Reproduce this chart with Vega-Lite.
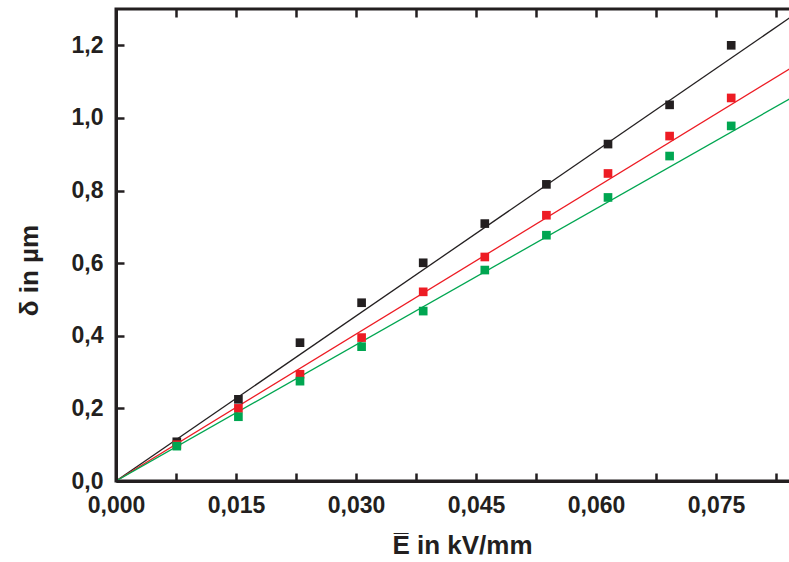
{
  "$schema": "https://vega.github.io/schema/vega-lite/v6.json",
  "width": 676,
  "height": 472,
  "autosize": {"type": "none"},
  "padding": {"left": 116, "top": 9, "right": 0, "bottom": 81},
  "background": "white",
  "config": {
    "view": {"stroke": "#231f20", "strokeWidth": 3},
    "font": "Liberation Sans"
  },
  "data": {
    "values": [
      {"series": "Bimorph", "kind": "pt", "E": 0.0076, "d": 0.108},
      {"series": "Bimorph", "kind": "pt", "E": 0.0153, "d": 0.225},
      {"series": "Bimorph", "kind": "pt", "E": 0.0230, "d": 0.381},
      {"series": "Bimorph", "kind": "pt", "E": 0.0307, "d": 0.491},
      {"series": "Bimorph", "kind": "pt", "E": 0.0384, "d": 0.601},
      {"series": "Bimorph", "kind": "pt", "E": 0.0461, "d": 0.709},
      {"series": "Bimorph", "kind": "pt", "E": 0.0538, "d": 0.817},
      {"series": "Bimorph", "kind": "pt", "E": 0.0615, "d": 0.928},
      {"series": "Bimorph", "kind": "pt", "E": 0.0692, "d": 1.036},
      {"series": "Bimorph", "kind": "pt", "E": 0.0769, "d": 1.200},
      {"series": "Trimorph", "kind": "pt", "E": 0.0076, "d": 0.100},
      {"series": "Trimorph", "kind": "pt", "E": 0.0153, "d": 0.200},
      {"series": "Trimorph", "kind": "pt", "E": 0.0230, "d": 0.294},
      {"series": "Trimorph", "kind": "pt", "E": 0.0307, "d": 0.395},
      {"series": "Trimorph", "kind": "pt", "E": 0.0384, "d": 0.521},
      {"series": "Trimorph", "kind": "pt", "E": 0.0461, "d": 0.617},
      {"series": "Trimorph", "kind": "pt", "E": 0.0538, "d": 0.732},
      {"series": "Trimorph", "kind": "pt", "E": 0.0615, "d": 0.847},
      {"series": "Trimorph", "kind": "pt", "E": 0.0692, "d": 0.950},
      {"series": "Trimorph", "kind": "pt", "E": 0.0769, "d": 1.055},
      {"series": "4-morph", "kind": "pt", "E": 0.0076, "d": 0.096},
      {"series": "4-morph", "kind": "pt", "E": 0.0153, "d": 0.177},
      {"series": "4-morph", "kind": "pt", "E": 0.0230, "d": 0.275},
      {"series": "4-morph", "kind": "pt", "E": 0.0307, "d": 0.370},
      {"series": "4-morph", "kind": "pt", "E": 0.0384, "d": 0.468},
      {"series": "4-morph", "kind": "pt", "E": 0.0461, "d": 0.581},
      {"series": "4-morph", "kind": "pt", "E": 0.0538, "d": 0.677},
      {"series": "4-morph", "kind": "pt", "E": 0.0615, "d": 0.781},
      {"series": "4-morph", "kind": "pt", "E": 0.0692, "d": 0.895},
      {"series": "4-morph", "kind": "pt", "E": 0.0769, "d": 0.978},
      {"series": "Bimorph", "kind": "fit", "E": 0, "d": 0},
      {"series": "Bimorph", "kind": "fit", "E": 0.0845, "d": 1.280},
      {"series": "Trimorph", "kind": "fit", "E": 0, "d": 0},
      {"series": "Trimorph", "kind": "fit", "E": 0.0845, "d": 1.139},
      {"series": "4-morph", "kind": "fit", "E": 0, "d": 0},
      {"series": "4-morph", "kind": "fit", "E": 0.0845, "d": 1.056}
    ]
  },
  "layer": [
    {
      "transform": [{"filter": "datum.kind == 'fit'"}],
      "mark": {"type": "line", "clip": true, "strokeWidth": 1.3},
      "encoding": {
        "x": {
          "field": "E", "type": "quantitative",
          "scale": {"domain": [0, 0.0845], "nice": false},
          "axis": {
            "orient": "bottom",
            "zindex": 1,
            "values": [0, 0.0075, 0.015, 0.0225, 0.03, 0.0375, 0.045, 0.0525, 0.06, 0.0675, 0.075, 0.0825],
            "labelExpr": "round(datum.value / 0.0075) % 2 == 0 ? replace(format(datum.value, '.3f'), '.', ',') : ''",
            "domainColor": "#231f20",
            "domainWidth": 3,
            "ticks": false,
            "grid": true,
            "gridColor": "#231f20",
            "gridWidth": 2.5,
            "gridDash": [8, 456, 8, 1000],
            "labelPadding": 13,
            "labelOverlap": false,
            "labelFlush": false,
            "labelColor": "#231f20",
            "labelFontSize": 23,
            "labelFontWeight": "bold",
            "title": "E\u0305 in kV/mm",
            "titleColor": "#231f20",
            "titleFontSize": 26,
            "titleFontWeight": "bold",
            "titleX": 346,
            "titleY": 72,
            "titleAlign": "center",
            "titleBaseline": "alphabetic"
          }
        },
        "y": {
          "field": "d", "type": "quantitative",
          "scale": {"domain": [0, 1.3], "nice": false},
          "axis": {
            "zindex": 1,
            "values": [0, 0.1, 0.2, 0.3, 0.4, 0.5, 0.6, 0.7, 0.8, 0.9, 1.0, 1.1, 1.2, 1.3],
            "labelExpr": "round(datum.value * 10) % 2 == 0 && datum.value < 1.25 ? replace(format(datum.value, '.1f'), '.', ',') : ''",
            "domainColor": "#231f20",
            "domainWidth": 3,
            "ticks": false,
            "grid": true,
            "gridColor": "#231f20",
            "gridWidth": 2.5,
            "gridDash": [8, 2000],
            "labelPadding": 13,
            "labelOverlap": false,
            "labelFlush": false,
            "labelColor": "#231f20",
            "labelFontSize": 23,
            "labelFontWeight": "bold",
            "title": "δ in µm",
            "titleColor": "#231f20",
            "titleFontSize": 26,
            "titleFontWeight": "bold",
            "titleX": -79,
            "titleY": 261,
            "titleAngle": -90,
            "titleAlign": "center",
            "titleBaseline": "alphabetic"
          }
        },
        "stroke": {
          "field": "series", "type": "nominal",
          "scale": {"domain": ["Bimorph", "Trimorph", "4-morph"], "range": ["#231f20", "#ed1c24", "#00a651"]},
          "legend": null
        }
      }
    },
    {
      "transform": [{"filter": "datum.kind == 'pt'"}],
      "mark": {"type": "square", "size": 75, "opacity": 1, "filled": true},
      "encoding": {
        "x": {"field": "E", "type": "quantitative"},
        "y": {"field": "d", "type": "quantitative"},
        "color": {
          "field": "series", "type": "nominal",
          "scale": {"domain": ["Bimorph", "Trimorph", "4-morph"], "range": ["#231f20", "#ed1c24", "#00a651"]},
          "legend": {
            "orient": "none",
            "legendX": 26,
            "legendY": 2,
            "title": null,
            "labelFontSize": 18,
            "labelFontWeight": "bold",
            "strokeColor": "#231f20",
            "fillColor": "white"
          }
        }
      }
    }
  ]
}
